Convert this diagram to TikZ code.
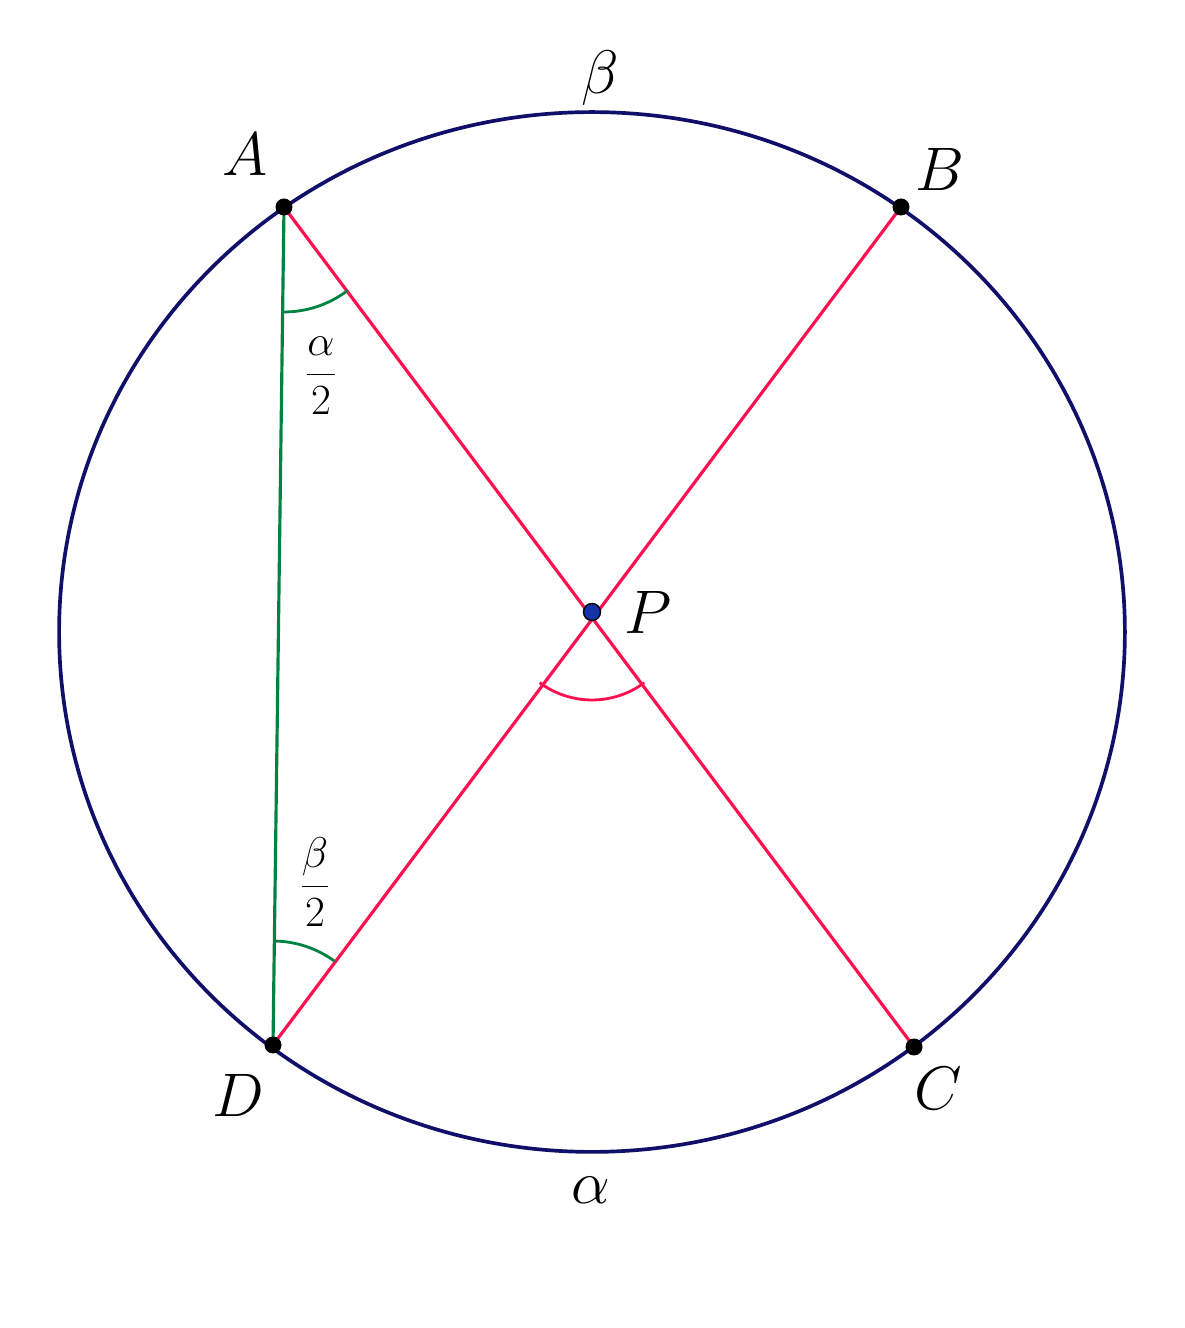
\RequirePackage{fix-cm}
\documentclass[tikz,border=0pt]{standalone}
\begin{document}
\definecolor{navyc}{RGB}{16,16,106}
\definecolor{redc}{RGB}{255,16,80}
\definecolor{greenc}{RGB}{0,130,66}
\definecolor{bluec}{RGB}{20,50,170}
\begin{tikzpicture}[x=0.02cm,y=0.02cm,
  circ/.style={draw=navyc,line width=2.1pt},
  chord/.style={draw=redc,line width=1.8pt},
  gchord/.style={draw=greenc,line width=1.8pt},
  pt/.style={circle,fill=black,inner sep=0pt,minimum size=0.34cm},
  ppt/.style={circle,fill=bluec,draw=black,line width=0.8pt,inner sep=0pt,minimum size=0.34cm},
  lab/.style={font=\fontsize{35}{42}\selectfont},
  flab/.style={font=\fontsize{24.5}{30}\selectfont}]
\useasboundingbox (0,0) rectangle (1184,1328);
\coordinate (O) at (592,696);
\draw[circ] (O) ellipse [x radius=10.66cm, y radius=10.4cm];
\coordinate (A) at (284,1121);
\coordinate (B) at (901,1121);
\coordinate (C) at (914,281);
\coordinate (D) at (273,283);
\coordinate (P) at (592,716);
\draw[gchord] (A) -- (D);
\draw[chord] (A) -- (C);
\draw[chord] (B) -- (D);
\draw[draw=greenc,line width=1.6pt] ([shift={(269.5:2.1cm)}]A) arc[start angle=269.5,end angle=307.3,radius=2.1cm];
\draw[draw=greenc,line width=1.6pt] ([shift={(53.6:2.08cm)}]D) arc[start angle=53.6,end angle=89.2,radius=2.08cm];
\draw[draw=redc,line width=1.6pt] ([shift={(233.4:1.76cm)}]P) arc[start angle=233.4,end angle=306.5,radius=1.76cm];
\node[pt] (dA) at (A) {};
\node[pt] (dB) at (B) {};
\node[pt] (dC) at (C) {};
\node[pt] (dD) at (D) {};
\node[ppt] (dP) at (P) {};
\node[lab] (lA) at (245,1173) {$A$};
\node[lab] (lB) at (940,1158) {$B$};
\node[lab] (lC) at (938,240) {$C$};
\node[lab] (lD) at (238,233) {$D$};
\node[lab] (lP) at (648,716) {$P$};
\node[lab] (lbeta) at (600,1250) {$\beta$};
\node[lab] (lalpha) at (591,138) {$\alpha$};
\node[flab] (la2) at (321,952) {$\displaystyle\frac{\alpha}{2}$};
\node[flab] (lb2) at (315,446) {$\displaystyle\frac{\beta}{2}$};
\end{tikzpicture}
\end{document}
